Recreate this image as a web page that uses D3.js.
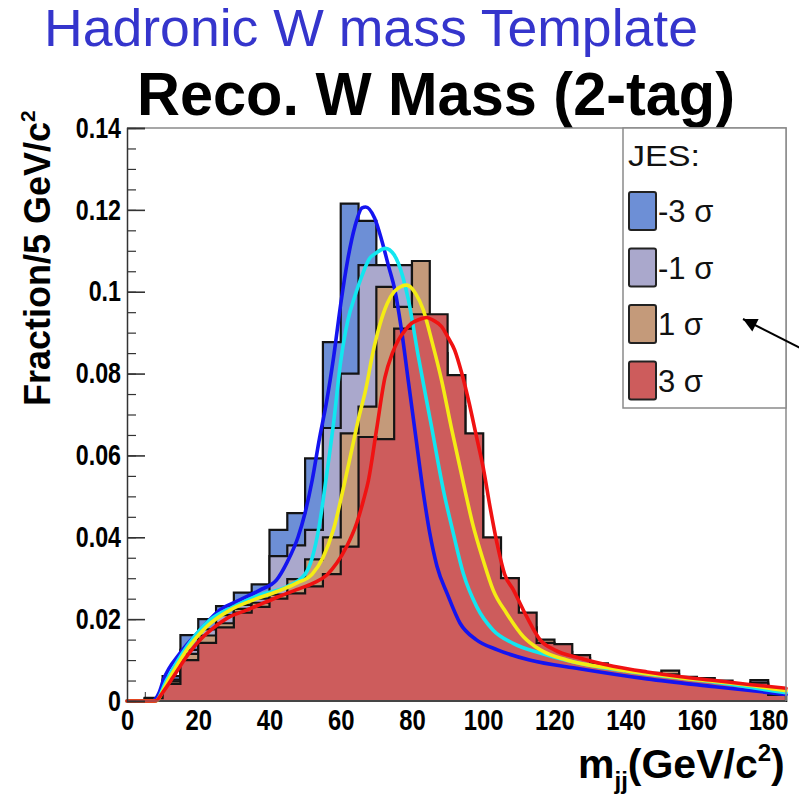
<!DOCTYPE html>
<html>
<head>
<meta charset="utf-8">
<script src="https://cdn.jsdelivr.net/npm/d3@7"></script>
<style>
  html, body { margin: 0; padding: 0; background: #ffffff; }
  svg { display: block; }
</style>
</head>
<body>
<svg id="chart" width="799" height="796"></svg>
<script>
// Reconstructed W -> jj invariant mass templates, 5 GeV/c^2 bins, normalised to unit area,
// for four jet-energy-scale shifts.
const massBinEdges = [0,5,10,15,20,25,30,35,40,45,50,55,60,65,70,75,80,85,90,95,100,
  105,110,115,120,125,130,135,140,145,150,155,160,165,170,175,180];

const histJesMinus3 = [0,0.0008,0.0061,0.0161,0.0200,0.0232,0.0265,0.0285,0.0418,0.0459,0.0593,
  0.0877,0.1215,0.1173,0.1000,0.0800,0.0580,0.0380,0.0260,0.0190,0.0150,0.0130,0.0110,0.0100,
  0.0090,0.0080,0.0070,0.0063,0.0057,0.0052,0.0048,0.0044,0.0040,0.0036,0.0032,0.0028,0.0015];

const histJesMinus1 = [0,0.0006,0.0052,0.0125,0.0175,0.0210,0.0235,0.0250,0.0354,0.0380,0.0418,
  0.0667,0.0800,0.1065,0.1065,0.1065,0.0880,0.0680,0.0520,0.0360,0.0250,0.0190,0.0150,0.0130,
  0.0110,0.0095,0.0080,0.0070,0.0062,0.0058,0.0055,0.0050,0.0045,0.0040,0.0033,0.0051,0.0010];

const histJesPlus1 = [0,0.0005,0.0048,0.0115,0.0160,0.0190,0.0225,0.0240,0.0260,0.0298,0.0346,
  0.0400,0.0654,0.0719,0.1012,0.0963,0.1075,0.0850,0.0720,0.0500,0.0340,0.0250,0.0180,0.0150,
  0.0120,0.0105,0.0085,0.0075,0.0068,0.0062,0.0074,0.0055,0.0050,0.0045,0.0035,0.0040,0.0012];

const histJesPlus3 = [0,0.0007,0.0042,0.0100,0.0142,0.0180,0.0216,0.0230,0.0250,0.0263,0.0280,
  0.0310,0.0377,0.0645,0.0640,0.0910,0.0945,0.0945,0.0796,0.0654,0.0400,0.0300,0.0216,0.0142,
  0.0139,0.0112,0.0092,0.0080,0.0072,0.0069,0.0065,0.0059,0.0056,0.0050,0.0039,0.0045,0.0015];

// Smooth template fits: [mass, fraction]
const fitJesMinus3 = [[0,0],[7,0],[9,0.002],[10.2,0.0051],[14.9,0.0117],[20.5,0.0173],[26,0.0222],
  [31.7,0.0247],[37.3,0.0271],[42,0.0296],[45,0.034],[48,0.040],[50,0.046],[52,0.054],[54,0.064],
  [56,0.073],[58,0.084],[60,0.097],[62,0.108],[64,0.116],[66,0.1205],[67,0.1207],[69.5,0.118],
  [71.5,0.1126],[73.5,0.106],[75.2,0.1004],[77,0.091],[79,0.078],[81,0.065],[83,0.052],[85,0.041],
  [87,0.033],[90,0.026],[93.5,0.019],[98,0.015],[104,0.0125],[113,0.0100],[127,0.0079],
  [146,0.0054],[165,0.0035],[185,0.0016]];

const fitJesMinus1 = [[0,0],[8,0],[11.1,0.0051],[16.8,0.0133],[23.3,0.0198],[29.8,0.0230],
  [37.3,0.0259],[44.8,0.0279],[50,0.031],[52,0.035],[54,0.043],[56,0.055],[58,0.068],[60,0.083],
  [62,0.093],[64,0.099],[66,0.104],[68,0.108],[70,0.1095],[72.5,0.1106],[75,0.109],[76.2,0.1069],
  [79,0.098],[81.8,0.0841],[85.5,0.067],[88.8,0.0516],[91.6,0.041],[94.4,0.0312],[98.2,0.023],
  [102.8,0.0173],[108.4,0.0141],[116,0.0117],[127,0.0092],[146,0.0066],[165,0.0046],[185,0.0020]];

const fitJesPlus1 = [[0,0],[8,0],[11.6,0.0051],[16.8,0.0125],[22.4,0.0182],[28.9,0.0222],
  [35.5,0.0247],[42,0.0267],[47.6,0.0288],[52,0.031],[55,0.035],[58,0.042],[61,0.053],[63,0.061],
  [65,0.069],[67,0.076],[69,0.085],[71,0.092],[73,0.097],[75,0.100],[77,0.1013],[78.5,0.1016],
  [81,0.0996],[83.2,0.0955],[85.5,0.0882],[88.3,0.0784],[91,0.067],[93,0.059],[95,0.051],
  [97,0.0434],[100,0.0344],[102.8,0.0271],[106.6,0.0214],[111.3,0.0157],[116,0.0125],
  [123.4,0.0100],[136.5,0.0079],[155,0.0057],[174,0.0039],[185,0.0025]];

const fitJesPlus3 = [[0,0],[7.9,0],[10.2,0.0023],[13,0.0059],[16.7,0.0108],[20.5,0.0149],
  [24.2,0.0178],[28.9,0.0206],[33.6,0.0222],[38.2,0.0239],[42.9,0.0256],[47.6,0.0272],
  [52.3,0.0288],[56.1,0.0308],[58.9,0.0337],[61.7,0.0378],[64.5,0.0435],[66.4,0.0491],
  [67.8,0.054],[70,0.066],[72.4,0.079],[74.5,0.085],[76.2,0.0882],[78,0.0905],[79.9,0.0923],
  [82,0.0932],[84.1,0.0937],[86,0.0930],[88.3,0.0915],[90,0.0890],[92,0.0857],[94,0.080],
  [96,0.073],[98,0.065],[100,0.057],[102,0.047],[104,0.038],[106,0.031],[108.5,0.0271],
  [112.2,0.0206],[116,0.0149],[120,0.0125],[127,0.0105],[136.5,0.0085],[146,0.0071],
  [155,0.0060],[165,0.0050],[174,0.0041],[185,0.0031]];

const seriesLabels = ["-3 \u03c3", "-1 \u03c3", "1 \u03c3", "3 \u03c3"];
const xTickValues = [0,20,40,60,80,100,120,140,160,180];
const yTickValues = [0,0.02,0.04,0.06,0.08,0.1,0.12,0.14];
const yTickLabels = ["0","0.02","0.04","0.06","0.08","0.1","0.12","0.14"];

const histFills = ["#6d8fd6", "#aaa8cc", "#c49a7a", "#cd5c5c"];
const fitColors = ["#1414f0", "#12e6f0", "#f4ec14", "#f01212"];

const svg = d3.select("#chart");
const font = "'Liberation Sans', Arial, Helvetica, sans-serif";

// Narrow the ROOT-style labels horizontally while keeping their height
function condense(sel, factor) {
  sel.each(function () {
    const w = this.getComputedTextLength();
    this.setAttribute("textLength", (w * factor).toFixed(1));
    this.setAttribute("lengthAdjust", "spacingAndGlyphs");
  });
}

const binWidth = 5;
const x = d3.scaleLinear().domain([0, 185]).range([127, 786]);
const y = d3.scaleLinear().domain([0, 0.14]).range([701, 128]);

// Slide heading and plot title
svg.append("text")
  .attr("x", 44).attr("y", 46)
  .attr("font-family", font).attr("font-size", 51)
  .attr("fill", "#3535cc")
  .attr("textLength", 654).attr("lengthAdjust", "spacingAndGlyphs")
  .text("Hadronic W mass Template");

svg.append("text")
  .attr("x", 137).attr("y", 115)
  .attr("font-family", font).attr("font-size", 62).attr("font-weight", "bold")
  .attr("fill", "#000")
  .attr("textLength", 598).attr("lengthAdjust", "spacingAndGlyphs")
  .text("Reco. W Mass (2-tag)");

// X-axis ticks sit under the histogram fills
const xMinor = d3.range(0, 186, 5);
svg.append("g").attr("transform", `translate(0,${y(0)})`)
  .call(d3.axisTop(x).tickValues(xMinor).tickSize(9).tickFormat(""))
  .call(g => g.select(".domain").remove())
  .selectAll("line").attr("stroke", "#333");
svg.append("g").attr("transform", `translate(0,${y(0)})`)
  .call(d3.axisTop(x).tickValues(xTickValues).tickSize(18).tickFormat(""))
  .call(g => g.select(".domain").remove())
  .selectAll("line").attr("stroke", "#333");

// Overlaid step histograms, drawn -3 sigma first so +3 sigma ends up on top
function stepPath(values) {
  let p = `M${x(massBinEdges[0])},${y(0)}`;
  values.forEach((v, i) => {
    const lo = massBinEdges[i], hi = lo + binWidth;
    p += `L${x(lo)},${y(v)}L${x(hi)},${y(v)}`;
  });
  p += `L${x(massBinEdges[massBinEdges.length - 1] + binWidth)},${y(0)}Z`;
  return p;
}
const histograms = [histJesMinus3, histJesMinus1, histJesPlus1, histJesPlus3];
svg.append("g").selectAll("path").data(histograms).join("path")
  .attr("d", d => stepPath(d))
  .attr("fill", (d, i) => histFills[i])
  .attr("stroke", "#141414").attr("stroke-width", 2.2)
  .attr("stroke-linejoin", "miter");

// Fitted templates
const line = d3.line().x(d => x(d[0])).y(d => y(d[1])).curve(d3.curveMonotoneX);
const fits = [fitJesMinus3, fitJesMinus1, fitJesPlus1, fitJesPlus3];
svg.append("g").selectAll("path").data(fits).join("path")
  .attr("d", d => line(d))
  .attr("fill", "none")
  .attr("stroke", (d, i) => fitColors[i])
  .attr("stroke-width", 3.6)
  .attr("stroke-linejoin", "round").attr("stroke-linecap", "round");

// Frame
svg.append("path")
  .attr("d", `M${x(0)},${y(0.14)}H${x(185)}V${y(0)}`)
  .attr("fill", "none").attr("stroke", "#8a8a8a").attr("stroke-width", 1.5);
svg.append("line")
  .attr("x1", x(0)).attr("x2", x(185)).attr("y1", y(0)).attr("y2", y(0))
  .attr("stroke", "#777").attr("stroke-width", 1);

// Y axis: ticks point into the frame, labels on the left
const yMinor = d3.range(0, 0.1401, 0.005);
svg.append("g").attr("transform", `translate(${x(0)},0)`)
  .call(d3.axisRight(y).tickValues(yMinor).tickSize(9).tickFormat(""))
  .call(g => g.select(".domain").remove())
  .selectAll("line").attr("stroke", "#333").attr("stroke-width", 1.2);
svg.append("g").attr("transform", `translate(${x(0)},0)`)
  .call(d3.axisRight(y).tickValues(yTickValues).tickSize(18).tickFormat(""))
  .call(g => g.select(".domain").attr("stroke", "#333").attr("stroke-width", 1.5))
  .selectAll("line").attr("stroke", "#333").attr("stroke-width", 1.6);

const yLab = svg.append("g").attr("transform", `translate(${x(0)},0)`)
  .call(d3.axisLeft(y).tickValues(yTickValues).tickSize(0).tickPadding(6)
    .tickFormat((d, i) => yTickLabels[i]));
yLab.select(".domain").remove();
yLab.selectAll("text")
  .attr("font-family", font).attr("font-size", 29).attr("font-weight", "bold").attr("fill", "#000")
  .call(condense, 0.8);

const xLab = svg.append("g").attr("transform", `translate(0,${y(0)})`)
  .call(d3.axisBottom(x).tickValues(xTickValues).tickSize(0).tickPadding(8).tickFormat(d3.format("d")));
xLab.select(".domain").remove();
xLab.selectAll("text")
  .attr("font-family", font).attr("font-size", 29).attr("font-weight", "bold").attr("fill", "#000")
  .call(condense, 0.82);

// Axis titles
const yTitle = svg.append("text")
  .attr("transform", "translate(50,406) rotate(-90)")
  .attr("font-family", font).attr("font-size", 36).attr("font-weight", "bold").attr("fill", "#000");
yTitle.append("tspan").text("Fraction/5 GeV/c");
yTitle.append("tspan").attr("dy", -15).attr("font-size", 21).text("2");

const xTitle = svg.append("text")
  .attr("x", 578).attr("y", 778)
  .attr("font-family", font).attr("font-size", 41).attr("font-weight", "bold").attr("fill", "#000");
xTitle.append("tspan").text("m");
xTitle.append("tspan").attr("dy", 11).attr("font-size", 24).text("jj");
xTitle.append("tspan").attr("dy", -11).text("(GeV/c");
xTitle.append("tspan").attr("dy", -17).attr("font-size", 24).text("2");
xTitle.append("tspan").attr("dy", 17).text(")");

// Legend
const legend = svg.append("g");
legend.append("rect")
  .attr("x", 623).attr("y", 128).attr("width", 163).attr("height", 280)
  .attr("fill", "#fff").attr("stroke", "#8a8a8a").attr("stroke-width", 1.5);
legend.append("text")
  .attr("x", 628).attr("y", 166)
  .attr("font-family", font).attr("font-size", 29).attr("fill", "#111")
  .attr("textLength", 72).attr("lengthAdjust", "spacingAndGlyphs")
  .text("JES:");
seriesLabels.forEach((lab, i) => {
  const cy = 211 + i * 56.5;
  legend.append("rect")
    .attr("x", 629).attr("y", cy - 19).attr("width", 27).attr("height", 38)
    .attr("rx", 2)
    .attr("fill", histFills[i]).attr("stroke", "#222").attr("stroke-width", 2);
  legend.append("text")
    .attr("x", 658).attr("y", cy + 11)
    .attr("font-family", font).attr("font-size", 31).attr("fill", "#111")
    .text(lab);
});

// Pointer arrow running in from the right edge
svg.append("defs").append("marker")
  .attr("id", "head").attr("viewBox", "0 0 10 10")
  .attr("refX", 10).attr("refY", 5)
  .attr("markerWidth", 22).attr("markerHeight", 14)
  .attr("markerUnits", "userSpaceOnUse")
  .attr("orient", "auto")
  .append("path").attr("d", "M0,0L10,5L0,10Z").attr("fill", "#000");
svg.append("line")
  .attr("x1", 800).attr("y1", 348).attr("x2", 743).attr("y2", 319)
  .attr("stroke", "#000").attr("stroke-width", 2)
  .attr("marker-end", "url(#head)");
</script>
</body>
</html>
